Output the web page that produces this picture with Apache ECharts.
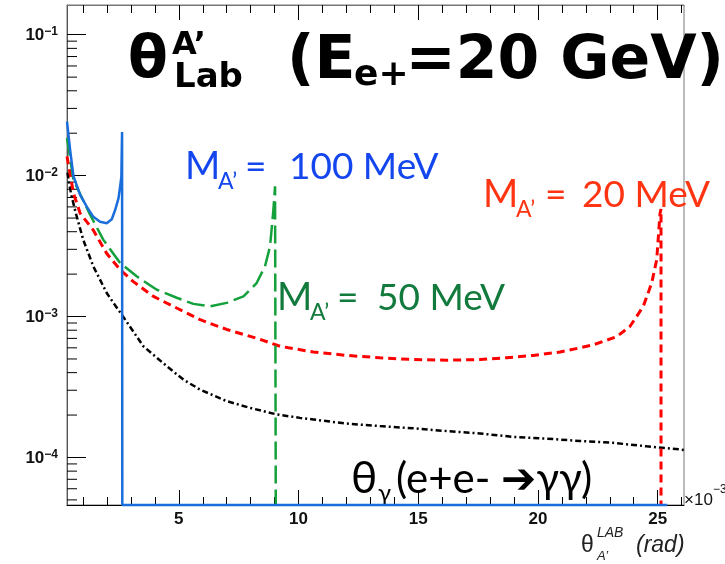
<!DOCTYPE html>
<html>
<head>
<meta charset="utf-8">
<script src="https://cdn.jsdelivr.net/npm/echarts@6/dist/echarts.min.js"></script>
<style>
html, body { margin: 0; padding: 0; background: #fff; }
#chart { width: 725px; height: 564px; }
</style>
</head>
<body>
<div id="chart"></div>
<script>
// Axis ranges: polar angle in mrad (x), log-scale yield (y)
const X_MIN = 0.33, X_MAX = 26.1;
const Y_MIN = 4.6e-5, Y_MAX = 0.1625;
// Empty histogram bins sit on the frame floor
const FLOOR = Y_MIN;

const xMajorTicks = [5, 10, 15, 20, 25];
const xMinorTicks = [1, 2, 3, 4, 5, 6, 7, 8, 9, 10, 11, 12, 13, 14, 15, 16, 17, 18, 19, 20, 21, 22, 23, 24, 25, 26];
const yMinorTicks = [
  5e-5, 6e-5, 7e-5, 8e-5, 9e-5,
  2e-4, 3e-4, 4e-4, 5e-4, 6e-4, 7e-4, 8e-4, 9e-4,
  2e-3, 3e-3, 4e-3, 5e-3, 6e-3, 7e-3, 8e-3, 9e-3,
  2e-2, 3e-2, 4e-2, 5e-2, 6e-2, 7e-2, 8e-2, 9e-2
];

// M_A' = 100 MeV
const theta100 = [0.33, 0.46, 0.60, 0.88, 1.16, 1.43, 1.71, 1.99, 2.20, 2.34, 2.48, 2.55, 2.60, 2.63, 2.64, 2.64, 25.4];
const yield100 = [0.0242, 0.0152, 0.0099, 0.0073, 0.0060, 0.0051, 0.0047, 0.0046, 0.0049, 0.0057, 0.0069, 0.0084, 0.0098, 0.0204, 0.0204, FLOOR, FLOOR];

// M_A' = 50 MeV
const theta50 = [0.33, 0.60, 1.29, 1.85, 2.55, 3.24, 4.08, 4.91, 5.61, 6.30, 7.00, 7.70, 8.25, 8.60, 8.81, 8.95, 9.02, 9.05, 9.05];
const yield50 = [0.0185, 0.0093, 0.0053, 0.0035, 0.0024, 0.00193, 0.00155, 0.00136, 0.00123, 0.00118, 0.00125, 0.00139, 0.00173, 0.00227, 0.00315, 0.0057, 0.0084, 0.0084, FLOOR];

// M_A' = 20 MeV
const theta20 = [0.33, 0.60, 0.88, 1.43, 1.99, 2.55, 3.10, 3.94, 4.91, 5.89, 7.00, 8.39, 9.23, 10.62, 12.01, 13.40, 14.79, 16.19, 17.58, 18.69, 19.80, 20.92, 21.75, 22.31, 23.29, 23.84, 24.40, 24.75, 24.96, 25.04, 25.10, 25.14, 25.14];
const yield20 = [0.0137, 0.0075, 0.0054, 0.0041, 0.0028, 0.00215, 0.00177, 0.00139, 0.00115, 0.00095, 0.00081, 0.00069, 0.000615, 0.00056, 0.00053, 0.00051, 0.000495, 0.00049, 0.000495, 0.00051, 0.00053, 0.00056, 0.0006, 0.00063, 0.00072, 0.00085, 0.00118, 0.00173, 0.00253, 0.0039, 0.0054, 0.0058, FLOOR];

// theta_gamma for e+e- -> gamma gamma
const thetaGG = [0.35, 0.50, 0.70, 1.01, 1.43, 1.99, 2.27, 2.62, 3.52, 4.50, 5.19, 5.89, 7.00, 7.97, 9.09, 10.06, 10.62, 12.01, 13.40, 14.79, 16.19, 17.58, 18.97, 20.36, 21.75, 23.14, 24.54, 25.93, 26.1];
const yieldGG = [0.0105, 0.0074, 0.0054, 0.0035, 0.00227, 0.00147, 0.00125, 0.00103, 0.000615, 0.000444, 0.000357, 0.000303, 0.000251, 0.000225, 0.000202, 0.000191, 0.000186, 0.000174, 0.000167, 0.000161, 0.000154, 0.000148, 0.000140, 0.000136, 0.000131, 0.000127, 0.000120, 0.000114, 0.000113];

const pairs = (xs, ys) => xs.map((x, i) => [x, ys[i]]);

const AXIS_FONT = '"Liberation Sans", Arial, sans-serif';
const NOTE_FONT = 'Lato, "Noto Sans", "DejaVu Sans", sans-serif';
const TITLE_FONT = '"DejaVu Sans", sans-serif';

function lineSeries(name, xs, ys, color, width, dash, z) {
  return {
    name, type: 'line', data: pairs(xs, ys),
    showSymbol: false, symbol: 'none', clip: false, z,
    lineStyle: { color, width, type: dash },
    emphasis: { disabled: true }, silent: true
  };
}

function txt(text, x, y, size, color, extra) {
  return {
    type: 'text', x, y, silent: true,
    style: Object.assign({
      text, fill: color, fontSize: size, fontFamily: NOTE_FONT,
      align: 'left', verticalAlign: 'middle'
    }, extra || {})
  };
}

const xAxisBase = {
  type: 'value', min: X_MIN, max: X_MAX,
  splitLine: { show: false }, axisLabel: { show: false }
};

const chart = echarts.init(document.getElementById('chart'), null, { renderer: 'canvas' });

chart.setOption({
  animation: false,
  backgroundColor: '#fff',
  grid: {
    left: 67, right: 41, top: 5, bottom: 59,
    show: true, borderColor: '#777', borderWidth: 1,
    outerBoundsMode: 'none', containLabel: false
  },
  xAxis: [
    Object.assign({}, xAxisBase, {
      position: 'bottom',
      axisLine: { onZero: false, lineStyle: { color: '#000', width: 1 } },
      axisTick: { inside: true, length: 15, customValues: xMajorTicks, lineStyle: { color: '#000' } },
      axisLabel: {
        show: true, customValues: xMajorTicks, margin: 6,
        color: '#111', fontFamily: AXIS_FONT, fontWeight: 'bold', fontSize: 17
      }
    }),
    Object.assign({}, xAxisBase, {
      position: 'bottom',
      axisLine: { show: false, onZero: false },
      axisTick: { inside: true, length: 8, customValues: xMinorTicks, lineStyle: { color: '#000' } }
    }),
    Object.assign({}, xAxisBase, {
      position: 'top',
      axisLine: { show: true, onZero: false, lineStyle: { color: '#777' } },
      axisTick: { inside: true, length: 15, customValues: xMajorTicks, lineStyle: { color: '#000' } }
    }),
    Object.assign({}, xAxisBase, {
      position: 'top',
      axisLine: { show: false, onZero: false },
      axisTick: { inside: true, length: 8, customValues: xMinorTicks, lineStyle: { color: '#000' } }
    })
  ],
  yAxis: [{
    type: 'log', logBase: 10, min: Y_MIN, max: Y_MAX, position: 'left',
    splitLine: { show: false },
    axisLine: { show: true, onZero: false, lineStyle: { color: '#555' } },
    axisTick: { inside: true, length: 19, lineStyle: { color: '#000' } },
    axisLabel: {
      margin: 9, showMinLabel: false, showMaxLabel: false,
      formatter: v => {
        const e = Math.round(Math.log10(v));
        return '{b|10}{s|' + (e < 0 ? '\u2212' : '') + Math.abs(e) + '}';
      },
      rich: {
        b: { fontSize: 17, fontWeight: 'bold', fontFamily: AXIS_FONT, color: '#111', lineHeight: 18, verticalAlign: 'bottom' },
        s: { fontSize: 12, fontWeight: 'bold', fontFamily: AXIS_FONT, color: '#111', lineHeight: 13, verticalAlign: 'top', padding: [0, 0, 8, 0] }
      }
    }
  }],
  series: [
    {
      // minor decade ticks (2..9 x 10^n) on the log axis
      type: 'custom', coordinateSystem: 'cartesian2d', silent: true, z: 1,
      data: yMinorTicks.map(v => [X_MIN, v]),
      renderItem: (params, api) => {
        const p = api.coord([api.value(0), api.value(1)]);
        return { type: 'line', shape: { x1: p[0], y1: p[1], x2: p[0] + 10, y2: p[1] }, style: { stroke: '#000', lineWidth: 1 } };
      }
    },
    lineSeries('θγ', thetaGG, yieldGG, '#000', 2.5, [6, 3, 2, 3], 3),
    lineSeries('20 MeV', theta20, yield20, '#ff0000', 3, [8, 5], 4),
    lineSeries('50 MeV', theta50, yield50, '#14a03a', 2.5, [18, 6], 5),
    lineSeries('100 MeV', theta100, yield100, '#1a6edc', 2.5, 'solid', 6)
  ],
  graphic: [
    // title
    txt('θ', 128, 62, 58, '#000', { fontFamily: TITLE_FONT, fontWeight: 'bold' }),
    txt('A\u2019', 172, 46, 32, '#000', { fontFamily: TITLE_FONT, fontWeight: 'bold' }),
    txt('Lab', 174, 78, 34, '#000', { fontFamily: TITLE_FONT, fontWeight: 'bold' }),
    txt('(E', 287, 62, 60, '#000', { fontFamily: TITLE_FONT, fontWeight: 'bold' }),
    txt('e+', 354, 76, 36, '#000', { fontFamily: TITLE_FONT, fontWeight: 'bold' }),
    txt('=20 GeV)', 724, 62, 60, '#000', { fontFamily: TITLE_FONT, fontWeight: 'bold', align: 'right' }),

    // mass annotations
    txt('M', 185, 167, 38, '#1446ee'),
    txt('A\u2019', 218, 182, 23, '#1446ee'),
    txt('=', 245, 167, 37, '#1446ee'),
    txt('100 MeV', 289, 167, 37, '#1446ee'),

    txt('M', 277, 298, 38, '#117a3c'),
    txt('A\u2019', 310, 313, 23, '#117a3c'),
    txt('=', 337, 298, 37, '#117a3c'),
    txt('50 MeV', 377, 298, 37, '#117a3c'),

    txt('M', 483, 195, 38, '#ff3412'),
    txt('A\u2019', 516, 210, 23, '#ff3412'),
    txt('=', 545, 195, 37, '#ff3412'),
    txt('20 MeV', 582, 195, 37, '#ff3412'),

    txt('θ', 351, 479, 44, '#000'),
    txt('γ', 378, 493, 24, '#000'),
    txt('(e+e- \u2794γγ)', 396, 479, 42, '#000'),

    // axis exponent and title
    txt('\u00d710', 684, 500, 17, '#111', { fontFamily: AXIS_FONT }),
    txt('\u22123', 713, 490, 12, '#111', { fontFamily: AXIS_FONT }),
    txt('θ', 581, 546, 23, '#222', { fontFamily: AXIS_FONT }),
    txt('LAB', 597, 533, 14, '#222', { fontFamily: AXIS_FONT, fontStyle: 'italic' }),
    txt('A\u2019', 597, 556, 13, '#222', { fontFamily: AXIS_FONT, fontStyle: 'italic' }),
    txt('(rad)', 636, 546, 23, '#222', { fontFamily: AXIS_FONT, fontStyle: 'italic' })
  ]
});
</script>
</body>
</html>
